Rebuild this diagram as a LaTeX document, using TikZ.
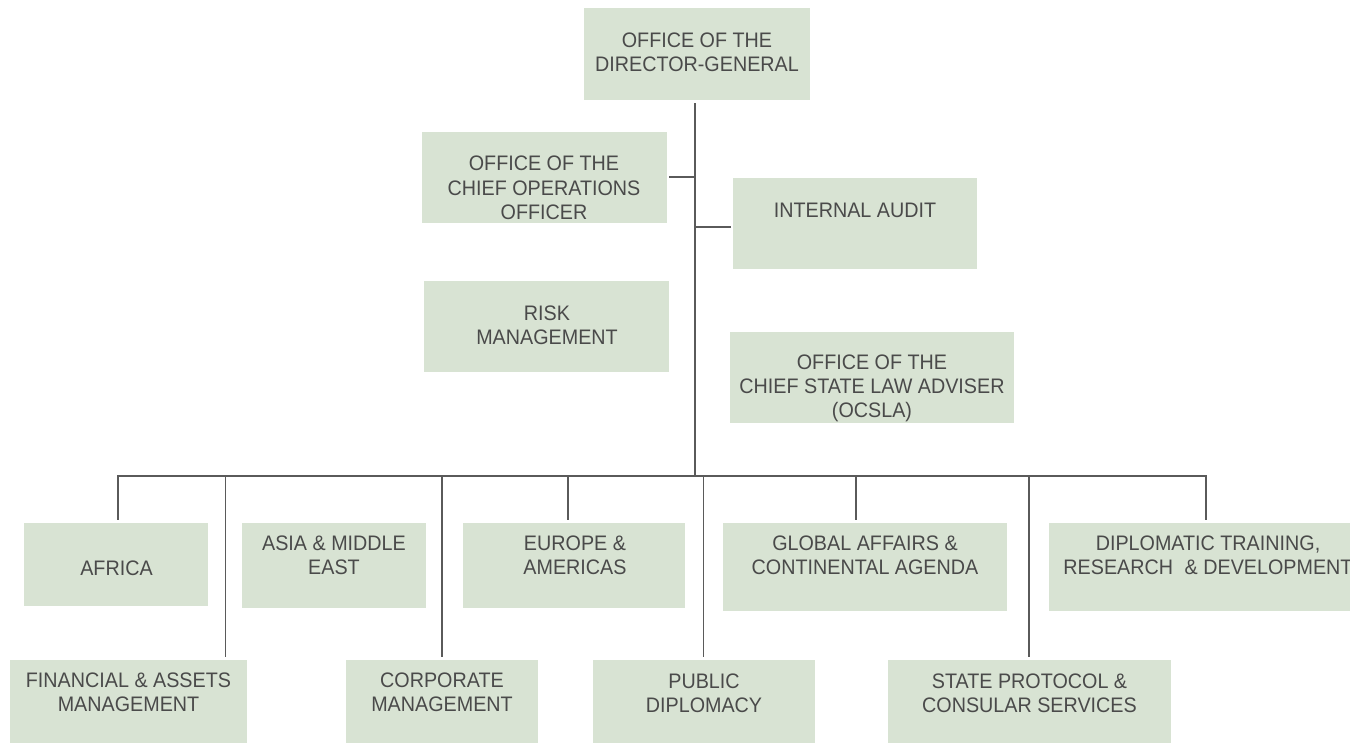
\documentclass[tikz,border=0pt]{standalone}
\usepackage{fontspec}
\setmainfont[FakeStretch=0.94]{Liberation Sans}
\definecolor{boxfill}{HTML}{D8E3D3}
\definecolor{txtcol}{HTML}{4A4A4A}
\definecolor{linecol}{HTML}{5A5A5A}
\begin{document}
\begin{tikzpicture}[x=1pt,y=-1pt,
  box/.style={fill=boxfill,draw=none,inner sep=0pt},
  txt/.style={text=txtcol,align=center,inner sep=0pt,font=\fontsize{21}{24.3}\selectfont},
  conn/.style={draw=linecol,line width=1.3pt}]
\useasboundingbox (0,0) rectangle (1350,742);
\clip (0,0) rectangle (1350,742);
% boxes
\node[box,minimum width=226pt,minimum height=92pt] (dg) at (697,54) {};
\node[box,minimum width=245pt,minimum height=91pt] (coo) at (544.5,177.5) {};
\node[box,minimum width=244pt,minimum height=91pt] (ia) at (855,223.5) {};
\node[box,minimum width=245pt,minimum height=91pt] (risk) at (546.5,326.5) {};
\node[box,minimum width=284pt,minimum height=91pt] (ocsla) at (872,377.5) {};
\node[box,minimum width=184pt,minimum height=83pt] (africa) at (116,564.5) {};
\node[box,minimum width=184pt,minimum height=85pt] (asia) at (334,565.5) {};
\node[box,minimum width=222pt,minimum height=85pt] (europe) at (574,565.5) {};
\node[box,minimum width=284pt,minimum height=88pt] (global) at (865,567) {};
\node[box,minimum width=311pt,minimum height=88pt] (dipl) at (1204.5,567) {};
\node[box,minimum width=237pt,minimum height=90pt] (fin) at (128.5,705) {};
\node[box,minimum width=192pt,minimum height=90pt] (corp) at (442,705) {};
\node[box,minimum width=222pt,minimum height=90pt] (public) at (704,705) {};
\node[box,minimum width=283pt,minimum height=90pt] (state) at (1029.5,705) {};
% texts
\node[txt] (dg-t) at (697,52) {OFFICE OF THE\\DIRECTOR-GENERAL};
\node[txt] (coo-t) at (544,188) {OFFICE OF THE\\CHIEF OPERATIONS\\OFFICER};
\node[txt] (ia-t) at (855,210) {INTERNAL AUDIT};
\node[txt] (risk-t) at (547,325) {RISK\\MANAGEMENT};
\node[txt] (ocsla-t) at (872,388.5) {OFFICE OF THE\\CHIEF STATE LAW ADVISER\\(OCSLA)};
\node[txt] (africa-t) at (116.5,568) {AFRICA};
\node[txt] (asia-t) at (334,555.5) {ASIA \& MIDDLE\\EAST};
\node[txt] (europe-t) at (575,555.5) {EUROPE \&\\AMERICAS};
\node[txt] (global-t) at (865,555.5) {GLOBAL AFFAIRS \&\\CONTINENTAL AGENDA};
\node[txt] (dipl-t) at (1208,555.5) {DIPLOMATIC TRAINING,\\RESEARCH\hspace{0.55em}\& DEVELOPMENT};
\node[txt] (fin-t) at (128.5,692) {FINANCIAL \& ASSETS\\MANAGEMENT};
\node[txt] (corp-t) at (442,692) {CORPORATE\\MANAGEMENT};
\node[txt] (public-t) at (704,693.5) {PUBLIC\\DIPLOMACY};
\node[txt] (state-t) at (1029.5,693.5) {STATE PROTOCOL \&\\CONSULAR SERVICES};
% junction coordinates
\coordinate (top) at (695,103);
\coordinate (hub) at (695,476);
\coordinate (barL) at (117,476);
\coordinate (barR) at (1207,476);
\coordinate (cooJ) at (695,177);
\coordinate (iaJ) at (695,227);
\coordinate (dAfrica) at (118,520);
\coordinate (dFin) at (225.5,657);
\coordinate (dCorp) at (442,657);
\coordinate (dEurope) at (568,520);
\coordinate (dPublic) at (703.5,657);
\coordinate (dGlobal) at (856,520);
\coordinate (dState) at (1029,657);
\coordinate (dDipl) at (1206,520);
% connectors
\draw[conn] (top) -- (hub);
\draw[conn] (cooJ) -- ([xshift=2pt]coo.east |- cooJ);
\draw[conn] (iaJ) -- ([xshift=-2pt]ia.west |- iaJ);
\draw[conn] (barL) -- (barR);
\foreach \d in {dAfrica,dFin,dCorp,dEurope,dPublic,dGlobal,dState,dDipl}
  \draw[conn] (barL -| \d) -- (\d);
\end{tikzpicture}
\end{document}
